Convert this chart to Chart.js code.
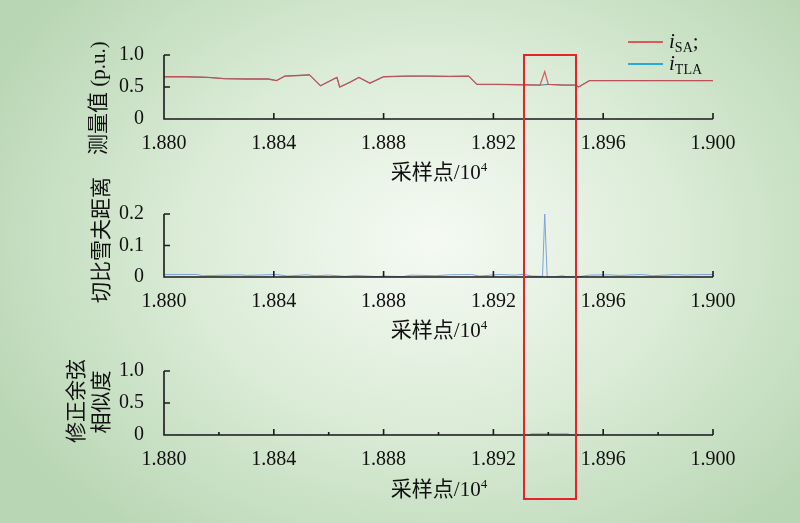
<!DOCTYPE html>
<html>
<head>
<meta charset="utf-8">
<script src="https://cdn.jsdelivr.net/npm/chart.js@4.4.0/dist/chart.umd.min.js"></script>
<style>
  html, body { margin: 0; padding: 0; }
  body {
    width: 800px; height: 523px; position: relative; overflow: hidden;
    background: radial-gradient(ellipse 62% 72% at 54% 46%, #f5faf3 0%, #dcecd8 48%, #b8d6b3 100%);
    font-family: "Liberation Serif", serif; color: #111;
  }
  canvas { position: absolute; left: 0; }
  .ttl { position: absolute; white-space: nowrap; font-size: 21px; line-height: 1; }
  .cjk { font-family: "Noto Sans CJK SC", sans-serif; }
  .rot { transform: translate(-50%, -50%) rotate(-90deg); }
  .xt { transform: translate(-50%, -50%); }
  .leg { position: absolute; font-size: 21px; line-height: 1; white-space: nowrap; }
  .leg sub { font-size: 14px; vertical-align: -4px; font-style: normal; }
  .legline { position: absolute; height: 1.5px; width: 35px; }
  #box { position: absolute; border: 2px solid #e3242b; box-sizing: border-box; }
</style>
</head>
<body>
<canvas id="c1" width="800" height="160" style="top:0"></canvas>
<canvas id="c2" width="800" height="180" style="top:160px"></canvas>
<canvas id="c3" width="800" height="183" style="top:340px"></canvas>

<div class="ttl rot" style="left:97px; top:98px"><span class="cjk">测量值</span> (p.u.)</div>
<div class="ttl rot cjk" style="left:99px; top:240px">切比雪夫距离</div>
<div class="ttl rot cjk" style="left:74px; top:401px">修正余弦</div>
<div class="ttl rot cjk" style="left:99px; top:402px">相似度</div>

<div class="ttl xt" style="left:439px; top:171px"><span class="cjk">采样点</span>/10<sup style="font-size:13px">4</sup></div>
<div class="ttl xt" style="left:439px; top:329px"><span class="cjk">采样点</span>/10<sup style="font-size:13px">4</sup></div>
<div class="ttl xt" style="left:439px; top:488px"><span class="cjk">采样点</span>/10<sup style="font-size:13px">4</sup></div>

<div class="legline" style="left:628px; top:41px; background:#e0585a"></div>
<div class="leg" style="left:669px; top:31px"><i>i</i><sub>SA</sub>;</div>
<div class="legline" style="left:628px; top:63px; background:#2aa9d8"></div>
<div class="leg" style="left:669px; top:53px"><i>i</i><sub>TLA</sub></div>

<div id="box"></div>

<script>
// sample index (x10^4)
const sampleX = [1.8800, 1.8808, 1.8816, 1.8822, 1.8830, 1.8838, 1.8841, 1.8844, 1.8849, 1.8853,
                 1.8857, 1.8863, 1.8864, 1.8868, 1.8871, 1.8875, 1.8880, 1.8888, 1.8896, 1.8904,
                 1.8911, 1.8914, 1.8922, 1.8930, 1.8937, 1.89387, 1.8940, 1.8946, 1.8950, 1.8951,
                 1.8955, 1.8965, 1.8975, 1.8985, 1.9000];
const iSA  = [0.66, 0.66, 0.65, 0.63, 0.625, 0.625, 0.60, 0.67, 0.68, 0.69,
              0.52, 0.65, 0.50, 0.58, 0.65, 0.56, 0.66, 0.67, 0.67, 0.665,
              0.67, 0.54, 0.54, 0.535, 0.53, 0.74, 0.54, 0.53, 0.53, 0.50,
              0.60, 0.60, 0.60, 0.60, 0.60];
const iTLA = [0.66, 0.66, 0.65, 0.63, 0.625, 0.625, 0.60, 0.67, 0.68, 0.69,
              0.52, 0.65, 0.50, 0.58, 0.65, 0.56, 0.66, 0.67, 0.67, 0.665,
              0.67, 0.54, 0.54, 0.535, 0.53, 0.535, 0.54, 0.53, 0.53, 0.50,
              0.60, 0.60, 0.60, 0.60, 0.60];

const distX = [1.8800, 1.8812, 1.8814, 1.8828, 1.8830, 1.8841, 1.8845, 1.8852, 1.8855, 1.8860,
               1.8866, 1.8870, 1.8878, 1.8880, 1.8887, 1.8890, 1.8899, 1.8904, 1.8912, 1.8915,
               1.8922, 1.8928, 1.8931, 1.8934, 1.89379, 1.89387, 1.89396, 1.8942, 1.8945, 1.8947,
               1.8950, 1.8955, 1.8962, 1.8966, 1.8974, 1.8978, 1.8987, 1.8990, 1.8996, 1.9000];
const chebDist = [0.008, 0.008, 0.004, 0.007, 0.005, 0.008, 0.003, 0.007, 0.004, 0.006,
                  0.002, 0.005, 0.001, 0.003, 0.001, 0.006, 0.004, 0.007, 0.008, 0.003,
                  0.008, 0.006, 0.009, 0.003, 0.002, 0.202, 0.000, 0.000, 0.004, 0.000,
                  0.000, 0.006, 0.007, 0.005, 0.008, 0.004, 0.008, 0.006, 0.008, 0.008];

const simX = [1.8800, 1.8933, 1.8934, 1.8947, 1.8948, 1.9000];
const cosSim = [0, 0, 0.02, 0.02, 0, 0];

const xTicks = [1.880, 1.884, 1.888, 1.892, 1.896, 1.900];
const highlight = [1.8931, 1.8950];

const pts = (xs, ys) => xs.map((x, i) => ({ x: x, y: ys[i] }));

// axes drawn by hand: ticks point into the plot
const inwardTicks = {
  id: 'inwardTicks',
  afterDraw(chart, args, opts) {
    const { ctx, chartArea: a, scales: { x, y } } = chart;
    ctx.save();
    ctx.strokeStyle = '#1a1a1a';
    ctx.lineWidth = 1.6;
    ctx.beginPath();
    ctx.moveTo(a.left, a.top);
    ctx.lineTo(a.left, a.bottom);
    ctx.lineTo(a.right, a.bottom);
    y.ticks.forEach(t => {
      if (t.value === y.min) return;
      const py = y.getPixelForValue(t.value);
      ctx.moveTo(a.left, py);
      ctx.lineTo(a.left + 6, py);
    });
    x.ticks.forEach(t => {
      const px = x.getPixelForValue(t.value);
      ctx.moveTo(px, a.bottom);
      ctx.lineTo(px, a.bottom - 6);
    });
    if (opts.minor) {
      for (let i = 0; i < xTicks.length - 1; i++) {
        const px = x.getPixelForValue((xTicks[i] + xTicks[i + 1]) / 2);
        ctx.moveTo(px, a.bottom);
        ctx.lineTo(px, a.bottom - 3);
      }
    }
    ctx.stroke();
    ctx.restore();
  }
};

function makeChart(id, datasets, yMax, yStep, top, bottomH, minor) {
  return new Chart(document.getElementById(id), {
    type: 'line',
    data: { datasets: datasets },
    options: {
      responsive: false,
      animation: false,
      devicePixelRatio: 1,
      layout: { padding: { top: top, left: 0, right: 87, bottom: 0 } },
      plugins: { legend: { display: false }, tooltip: { enabled: false }, inwardTicks: { minor: minor } },
      elements: { point: { radius: 0 }, line: { tension: 0 } },
      scales: {
        x: {
          type: 'linear', min: 1.880, max: 1.900,
          afterBuildTicks: s => { s.ticks = xTicks.map(v => ({ value: v })); },
          afterFit: s => { s.height = bottomH; },
          grid: { display: false }, border: { display: false },
          ticks: {
            padding: 5, color: '#111', maxRotation: 0,
            font: { family: 'Liberation Serif', size: 20 },
            callback: v => Number(v).toFixed(3)
          }
        },
        y: {
          min: 0, max: yMax,
          afterFit: s => { s.width = 164; },
          grid: { display: false }, border: { display: false },
          ticks: {
            stepSize: yStep, padding: 12, color: '#111',
            font: { family: 'Liberation Serif', size: 20 },
            callback: v => v === 0 ? '0' : Number(v).toFixed(1)
          }
        }
      }
    },
    plugins: [inwardTicks]
  });
}

const c1 = makeChart('c1', [
  { data: pts(sampleX, iTLA), borderColor: '#4a6f8a', borderWidth: 1, order: 2 },
  { data: pts(sampleX, iSA), borderColor: 'rgba(205,75,80,0.85)', borderWidth: 1.3, order: 1 }
], 1.0, 0.5, 55, 41, false);

makeChart('c2', [
  { data: pts(distX, chebDist), borderColor: '#7ea2d8', borderWidth: 1 }
], 0.2, 0.1, 54, 63, false);

makeChart('c3', [
  { data: pts(simX, cosSim), borderColor: '#9fb4d0', borderWidth: 1.2 }
], 1.0, 0.5, 31, 88, true);

// highlighted window, spans all three panels
const box = document.getElementById('box');
const bx1 = c1.scales.x.getPixelForValue(highlight[0]);
const bx2 = c1.scales.x.getPixelForValue(highlight[1]);
const by1 = c1.scales.y.getPixelForValue(1.0);
box.style.left = (bx1 - 1) + 'px';
box.style.width = (bx2 - bx1 + 2) + 'px';
box.style.top = (by1 - 1) + 'px';
box.style.height = (501 - by1) + 'px';
</script>
</body>
</html>
